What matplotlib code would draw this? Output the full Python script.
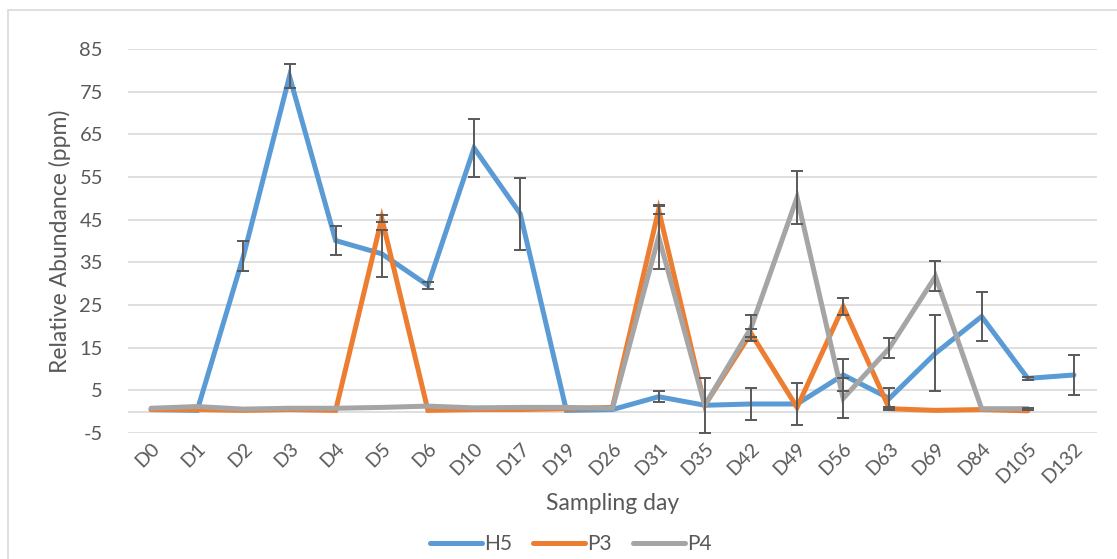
import numpy as np
import matplotlib
matplotlib.use("Agg")
import matplotlib.pyplot as plt
from matplotlib.patches import Rectangle

days = ["D0", "D1", "D2", "D3", "D4", "D5", "D6", "D10", "D17", "D19", "D26",
        "D31", "D35", "D42", "D49", "D56", "D63", "D69", "D84", "D105", "D132"]

h5 = [0.5, 0.3, 36.4, 78.6, 40.1, 37.0, 29.6, 61.8, 46.4, 0.3, 0.5,
      3.5, 1.5, 1.8, 1.8, 8.6, 3.1, 13.7, 22.3, 7.8, 8.6]
h5_err = [0, 0, 3.5, 2.8, 3.4, 5.5, 0.8, 6.7, 8.4, 0, 0,
          1.3, 0, 3.8, 5.0, 3.7, 2.4, 8.9, 5.7, 0.4, 4.7]

p3 = [0.5, 0.5, 0.3, 0.5, 0.3, 45.3, 0.3, 0.5, 0.5, 0.7, 1.0,
      47.3, 1.5, 18.4, 1.0, 24.6, 0.7, 0.3, 0.5, 0.2, np.nan]
p3_err = [0, 0, 0, 0, 0, 0.8, 0, 0, 0, 0, 0,
          1.0, 0, 1.0, 0, 2.0, 0.3, 0, 0, 0, 0]

p4 = [0.8, 1.2, 0.6, 0.8, 0.8, 1.0, 1.3, 0.9, 1.0, 1.0, 0.8,
      41.0, 1.5, 19.6, 50.2, 3.1, 14.9, 31.7, 0.7, 0.7, np.nan]
p4_err = [0, 0, 0, 0, 0, 0, 0, 0, 0, 0, 0,
          7.5, 6.4, 3.0, 6.3, 4.7, 2.3, 3.5, 0, 0.2, 0]

series = [("H5", h5, h5_err, "#5b9bd5"),
          ("P3", p3, p3_err, "#ed7d31"),
          ("P4", p4, p4_err, "#a5a5a5")]

plt.rcParams["font.family"] = ["Lato", "DejaVu Sans"]
plt.rcParams["axes.unicode_minus"] = False

fig = plt.figure(figsize=(11.17, 5.59), dpi=100)
ax = fig.add_axes([128 / 1117, 1 - 433 / 559, (1097 - 128) / 1117, (433 - 49) / 559])

# chart border (only left/top visible in the crop)
fig.patches.append(Rectangle((8 / 1117, -0.2), 1.2, 1.2 - 10 / 559,
                             transform=fig.transFigure, fill=False,
                             edgecolor="#d9d9d9", lw=1.2))

x = np.arange(len(days))
for name, vals, err, col in series:
    ax.plot(x, vals, color=col, lw=3.6, solid_capstyle="round",
            solid_joinstyle="miter", label=name, zorder=3)
for name, vals, err, col in series:
    v = np.array(vals, dtype=float)
    e = np.array(err, dtype=float)
    m = (e > 0) & ~np.isnan(v)
    ax.errorbar(x[m], v[m], yerr=e[m], fmt="none", ecolor="#595959",
                elinewidth=1.4, capsize=4.5, capthick=1.4, zorder=4)

ax.set_xlim(-0.5, len(days) - 0.5)
ax.set_ylim(-5, 85)
ax.set_yticks(np.arange(-5, 86, 10))
ax.grid(axis="y", color="#d9d9d9", lw=1.2, zorder=0)
ax.axhline(0, color="#d9d9d9", lw=1.2, zorder=1)
for s in ax.spines.values():
    s.set_visible(False)
ax.tick_params(length=0, colors="#595959", labelsize=14.5)
ax.tick_params(axis="y", pad=18)
ax.set_xticks(x)
ax.set_xticklabels(days, rotation=45, ha="right", va="top", rotation_mode="anchor",
                   fontsize=14)
ax.tick_params(axis="x", pad=5)

ax.set_ylabel("Relative Abundance (ppm)", color="#595959", fontsize=16.5, labelpad=6)
ax.set_xlabel("Sampling day", color="#595959", fontsize=16.5, labelpad=5)

leg = fig.legend(loc="center", bbox_to_anchor=(571 / 1117, 1 - 544 / 559), ncol=3,
                 frameon=False, fontsize=15, handlelength=2.5, columnspacing=1.0,
                 handletextpad=0.1, labelcolor="#595959")

fig.savefig("out.png", dpi=100)
